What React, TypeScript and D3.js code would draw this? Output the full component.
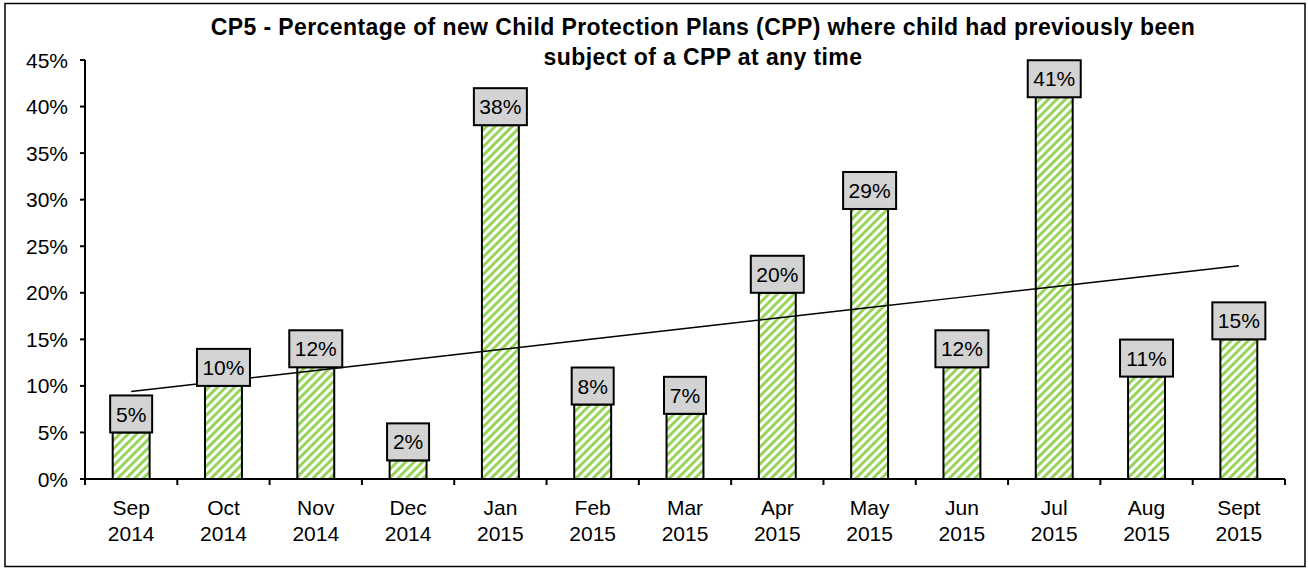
import React from "react";
import * as d3 from "d3";

const months = ["Sep", "Oct", "Nov", "Dec", "Jan", "Feb", "Mar", "Apr", "May", "Jun", "Jul", "Aug", "Sept"];
const years = ["2014", "2014", "2014", "2014", "2015", "2015", "2015", "2015", "2015", "2015", "2015", "2015", "2015"];
const values = [5, 10, 12, 2, 38, 8, 7, 20, 29, 12, 41, 11, 15];
const yTicks = [0, 5, 10, 15, 20, 25, 30, 35, 40, 45];
const titleLines = [
  "CP5 - Percentage of new Child Protection Plans (CPP) where child had previously been",
  "subject of a CPP at any time",
];

const W = 1308;
const H = 571;
const FONT = "'Liberation Sans', Arial, sans-serif";

export default function App() {
  const left = 85;
  const right = 1285;
  const top = 60;
  const bottom = 479;

  const keys = months.map((m, i) => `${m} ${years[i]}`);
  const x = d3.scaleBand<string>().domain(keys).range([left, right]).paddingInner(0.6).paddingOuter(0.3);
  const y = d3.scaleLinear().domain([0, 45]).range([bottom, top]);
  const step = x.step();

  // linear trend line (least squares) from the values
  const n = values.length;
  const xs = d3.range(n);
  const mx = d3.mean(xs) as number;
  const my = d3.mean(values) as number;
  const sxy = d3.sum(xs, (i) => (i - mx) * (values[i] - my));
  const sxx = d3.sum(xs, (i) => (i - mx) * (i - mx));
  const slope = sxy / sxx;
  const icpt = my - slope * mx;
  const trend = d3
    .line<number>()
    .x((i) => (x(keys[i]) as number) + x.bandwidth() / 2)
    .y((i) => y(icpt + slope * i));

  return (
    <svg width={W} height={H} style={{ display: "block", position: "absolute", left: 0, top: 0 }} fontFamily={FONT}>
      <defs>
        <pattern id="hatch" patternUnits="userSpaceOnUse" width="6" height="6" patternTransform="rotate(45)">
          <rect width="6" height="6" fill="#ffffff" />
          <rect x="0" y="0" width="3" height="6" fill="#98d35a" />
        </pattern>
      </defs>
      <rect x={0} y={0} width={W} height={H} fill="#fff" />
      <rect x={5} y={3.5} width={1300} height={563} fill="#fff" stroke="#000" strokeWidth={1.5} />

      {titleLines.map((t, i) => (
        <text key={i} x={703} y={35 + i * 30} textAnchor="middle" fontWeight="bold" fontSize={23} letterSpacing={0.4}>
          {t}
        </text>
      ))}

      {/* y axis */}
      <line x1={left} x2={left} y1={top} y2={bottom} stroke="#000" strokeWidth={2} />
      {yTicks.map((t) => (
        <g key={t}>
          <line x1={left - 5} x2={left} y1={y(t)} y2={y(t)} stroke="#000" strokeWidth={2} />
          <text x={68} y={y(t)} dy="0.36em" textAnchor="end" fontSize={21}>
            {t}%
          </text>
        </g>
      ))}

      {/* bars */}
      {values.map((v, i) => (
        <rect
          key={i}
          x={x(keys[i])}
          y={y(v)}
          width={x.bandwidth()}
          height={bottom - y(v)}
          fill="url(#hatch)"
          stroke="#000"
          strokeWidth={2}
        />
      ))}

      {/* x axis */}
      <line x1={left} x2={right} y1={bottom} y2={bottom} stroke="#000" strokeWidth={2} />
      {d3.range(n + 1).map((i) => (
        <line key={i} x1={left + i * step} x2={left + i * step} y1={bottom} y2={bottom + 6} stroke="#000" strokeWidth={2} />
      ))}
      {keys.map((k, i) => {
        const cx = (x(k) as number) + x.bandwidth() / 2;
        return (
          <text key={k} x={cx} textAnchor="middle" fontSize={21}>
            <tspan x={cx} y={515}>{months[i]}</tspan>
            <tspan x={cx} y={541}>{years[i]}</tspan>
          </text>
        );
      })}

      {/* trend line */}
      <path d={trend(xs) as string} fill="none" stroke="#000" strokeWidth={1.5} />

      {/* data labels */}
      {values.map((v, i) => {
        const cx = (x(keys[i]) as number) + x.bandwidth() / 2;
        const label = `${v}%`;
        const bw = label.length === 2 ? 42 : 53;
        const bh = 37;
        const by = y(v) - bh;
        return (
          <g key={i}>
            <rect x={cx - bw / 2} y={by} width={bw} height={bh} fill="#d3d3d3" stroke="#000" strokeWidth={2} />
            <text x={cx} y={by + bh / 2} dy="0.36em" textAnchor="middle" fontSize={21}>
              {label}
            </text>
          </g>
        );
      })}
    </svg>
  );
}
